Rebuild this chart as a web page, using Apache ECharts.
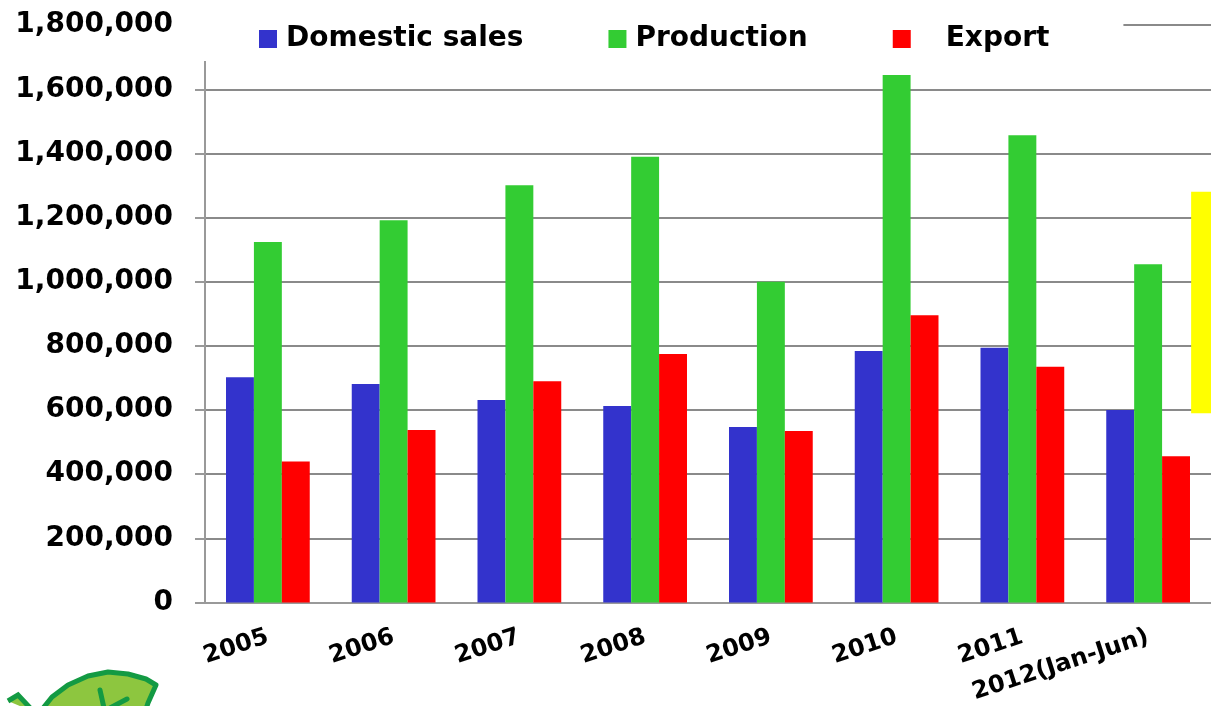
<!DOCTYPE html>
<html>
<head>
<meta charset="utf-8">
<script src="https://cdn.jsdelivr.net/npm/echarts@6/dist/echarts.min.js"></script>
<style>
  html, body { margin: 0; padding: 0; background: #ffffff; }
  #chart { width: 1211px; height: 706px; }
</style>
</head>
<body>
<div id="chart"></div>
<script>
const categories = ['2005', '2006', '2007', '2008', '2009', '2010', '2011', '2012(Jan-Jun)'];
const domesticSales = [702000, 681000, 631000, 613000, 547000, 784000, 794000, 600000];
const production = [1124000, 1192000, 1301000, 1390000, 1000000, 1645000, 1457000, 1055000];
const exportVals = [440000, 538000, 690000, 775000, 535000, 896000, 735000, 456000];
const seriesNames = ['Domestic sales', 'Production', 'Export'];
const highlightRange = [590000, 1281000];

const chart = echarts.init(document.getElementById('chart'), null, { renderer: 'canvas' });
const FONT = 'DejaVu Sans';

const option = {
  animation: false,
  backgroundColor: '#ffffff',
  textStyle: { fontFamily: FONT },
  legend: {
    left: 190,
    top: 0,
    backgroundColor: '#ffffff',
    padding: [25, 74, 8, 69],
    itemWidth: 18,
    itemHeight: 18,
    itemGap: 85,
    icon: 'rect',
    textStyle: { fontFamily: FONT, fontWeight: 'bold', fontSize: 28, color: '#000', lineHeight: 28, padding: [0, 0, 0, 4] },
    data: [
      { name: seriesNames[0] },
      { name: seriesNames[1] },
      { name: seriesNames[2], textStyle: { padding: [0, 0, 0, 30] } }
    ]
  },
  grid: { left: 205, right: -3, top: 25.2, bottom: 103.5, containLabel: false },
  xAxis: {
    type: 'category',
    data: categories,
    axisLine: { lineStyle: { color: '#999', width: 2 } },
    axisTick: { length: 9, lineStyle: { color: '#999', width: 2 } },
    axisLabel: {
      interval: 0, rotate: 18, margin: 34,
      fontFamily: FONT, fontWeight: 'bold', fontSize: 24, color: '#000'
    }
  },
  yAxis: {
    type: 'value',
    min: 0, max: 1800000, interval: 200000,
    axisLine: { show: true, lineStyle: { color: '#999', width: 2 } },
    axisTick: { show: true, length: 10, lineStyle: { color: '#999', width: 2 } },
    splitLine: { lineStyle: { color: '#8a8a8a', width: 2 } },
    axisLabel: {
      margin: 32, fontFamily: FONT, fontWeight: 'bold', fontSize: 28, color: '#000',
      formatter: v => v.toLocaleString('en-US')
    }
  },
  series: [
    { name: seriesNames[0], type: 'bar', data: domesticSales, barGap: '0%', barCategoryGap: '33.4%', itemStyle: { color: '#3333CC' } },
    { name: seriesNames[1], type: 'bar', data: production, barGap: '0%', barCategoryGap: '33.4%', itemStyle: { color: '#33CC33' } },
    { name: seriesNames[2], type: 'bar', data: exportVals, barGap: '0%', barCategoryGap: '33.4%', itemStyle: { color: '#FF0000' } }
  ]
};
chart.setOption(option);

// decorative highlight box (cropped) and logo
const yTop = chart.convertToPixel({ yAxisIndex: 0 }, highlightRange[1]);
const yBot = chart.convertToPixel({ yAxisIndex: 0 }, highlightRange[0]);
const xLast = chart.convertToPixel({ xAxisIndex: 0 }, categories[categories.length - 1]);
const DG = '#139A43', LG = '#8DC63F';
chart.setOption({
  graphic: [
    { type: 'rect', shape: { x: xLast + 43, y: yTop, width: 40, height: yBot - yTop }, style: { fill: '#FFFF00' }, z: 10 },
    { type: 'polygon', shape: { points: [[40, 712], [52, 697], [68, 685], [88, 676], [108, 672], [128, 674], [146, 679], [156, 685], [152, 694], [148, 703], [145, 712]] },
      style: { fill: LG, stroke: DG, lineWidth: 5, lineJoin: 'round' }, z: 10 },
    { type: 'polyline', shape: { points: [[8, 701], [18, 695], [34, 712]] },
      style: { fill: LG, stroke: DG, lineWidth: 5 }, z: 10 },
    { type: 'line', shape: { x1: 100, y1: 690, x2: 104, y2: 708 }, style: { stroke: DG, lineWidth: 5, lineCap: 'round' }, z: 11 },
    { type: 'line', shape: { x1: 110, y1: 708, x2: 127, y2: 699 }, style: { stroke: DG, lineWidth: 5, lineCap: 'round' }, z: 11 }
  ]
});
</script>
</body>
</html>
